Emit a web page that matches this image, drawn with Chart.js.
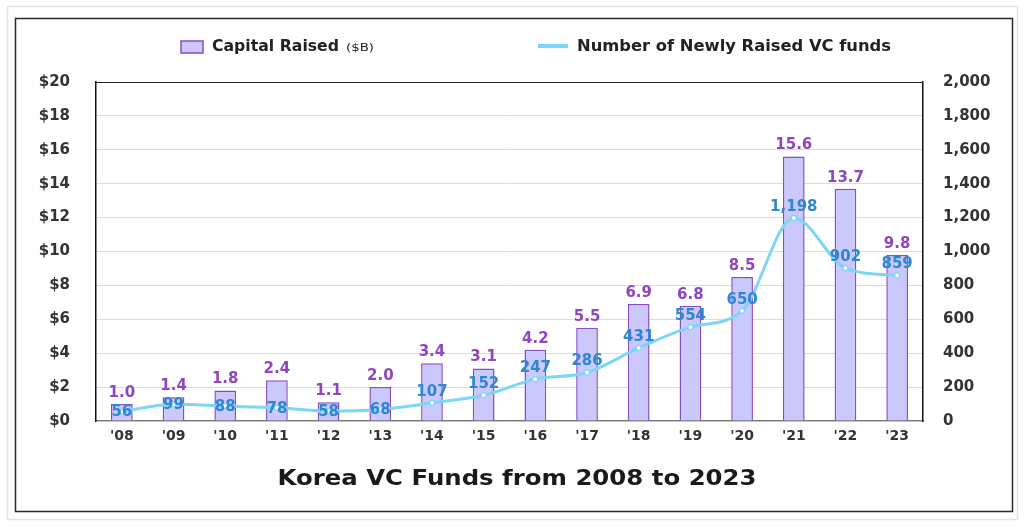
<!DOCTYPE html>
<html><head><meta charset="utf-8">
<script src="https://cdn.jsdelivr.net/npm/chart.js@4.4.1/dist/chart.umd.min.js"></script>
<style>html,body{margin:0;padding:0;background:#fff;}#wrap{width:1024px;height:527px;position:relative;}</style>
</head><body><div id="wrap"><canvas id="c" width="1024" height="527"></canvas></div>
<script>
const categories = ["'08","'09","'10","'11","'12","'13","'14","'15","'16","'17","'18","'19","'20","'21","'22","'23"];
const capitalRaised = [1.0,1.4,1.8,2.4,1.1,2.0,3.4,3.1,4.2,5.5,6.9,6.8,8.5,15.6,13.7,9.8];
const newFunds = [56,99,88,78,58,68,107,152,247,286,431,554,650,1198,902,859];
const barLabel = "Capital Raised";
const barUnit = "($B)";
const lineLabel = "Number of Newly Raised VC funds";
const chartTitle = "Korea VC Funds from 2008 to 2023";

const FONT = '"DejaVu Sans", "Noto Sans", sans-serif';
const BAR_FILL = '#cbc8fb', BAR_BORDER = '#8a4cc2', LINE_COL = '#7dd5f7';
const BAR_LBL = '#8e47c0', LINE_LBL = '#2f86d2';

function fitText(ctx, text, x, y, targetW, align) {
  ctx.letterSpacing = '0px';
  const w0 = ctx.measureText(text).width;
  const sx = targetW / w0;
  const left = align === 'center' ? x - targetW / 2 : x;
  ctx.save();
  ctx.translate(left, y);
  ctx.scale(sx, 1);
  ctx.textAlign = 'left';
  ctx.fillText(text, 0, 0);
  ctx.restore();
}

const decor = {
  id: 'decor',
  beforeDraw(chart) {
    const ctx = chart.ctx;
    ctx.save();
    ctx.fillStyle = '#fff'; ctx.fillRect(0,0,chart.width,chart.height);
    ctx.strokeStyle = '#e3e3e3'; ctx.lineWidth = 1.5;
    ctx.strokeRect(7.5, 6.5, 1010, 513);
    ctx.strokeStyle = '#2a2a2a'; ctx.lineWidth = 1.5;
    ctx.strokeRect(15.5, 18.5, 997, 493);
    ctx.restore();
  },
  afterDraw(chart) {
    const ctx = chart.ctx; const a = chart.chartArea;
    ctx.save();
    ctx.strokeStyle = '#222'; ctx.lineWidth = 1.2;
    ctx.beginPath(); ctx.moveTo(a.left, a.top + 0.5); ctx.lineTo(a.right, a.top + 0.5); ctx.stroke();
    // legend
    ctx.fillStyle = BAR_FILL; ctx.strokeStyle = BAR_BORDER; ctx.lineWidth = 1.5;
    ctx.fillRect(181, 41, 22, 12); ctx.strokeRect(181, 41, 22, 12);
    ctx.fillStyle = '#222'; ctx.textBaseline = 'middle';
    ctx.font = 'bold 15px ' + FONT;
    fitText(ctx, barLabel, 212, 47, 127, 'left');
    ctx.font = '11px ' + FONT;
    fitText(ctx, barUnit, 346, 48, 28, 'left');
    ctx.strokeStyle = LINE_COL; ctx.lineWidth = 4;
    ctx.beginPath(); ctx.moveTo(538, 46); ctx.lineTo(568, 46); ctx.stroke();
    ctx.font = 'bold 15px ' + FONT;
    fitText(ctx, lineLabel, 577, 47, 314, 'left');
    // title
    ctx.font = 'bold 21px ' + FONT;
    ctx.fillStyle = '#1a1a1a';
    fitText(ctx, chartTitle, 517, 480, 479, 'center');
    // bar labels
    const bm = chart.getDatasetMeta(0);
    ctx.font = 'bold 15px ' + FONT; ctx.fillStyle = BAR_LBL; ctx.textAlign = 'center'; ctx.textBaseline = 'middle';
    bm.data.forEach((el, i) => {
      ctx.fillText(capitalRaised[i].toFixed(1), el.x, el.y - 11);
    });
    // line labels
    const lm = chart.getDatasetMeta(1);
    ctx.font = 'bold 15px ' + FONT; ctx.fillStyle = LINE_LBL;
    lm.data.forEach((el, i) => {
      const v = newFunds[i];
      const dy = v >= 100 ? -11 : 1;
      ctx.fillText(v.toLocaleString('en-US'), el.x, el.y + dy);
    });
    ctx.restore();
  }
};

new Chart(document.getElementById('c'), {
  data: {
    labels: categories,
    datasets: [
      { type: 'bar', label: barLabel, data: capitalRaised, yAxisID: 'y',
        backgroundColor: BAR_FILL, borderColor: BAR_BORDER, borderWidth: 1.5,
        categoryPercentage: 1, barPercentage: 0.42, order: 2 },
      { type: 'line', label: lineLabel, data: newFunds, yAxisID: 'y1',
        borderColor: LINE_COL, borderWidth: 3, tension: 0.4, cubicInterpolationMode: 'monotone',
        pointRadius: 2.5, pointBackgroundColor: '#fff', pointBorderColor: LINE_COL, pointBorderWidth: 1.2,
        fill: false, order: 1 }
    ]
  },
  options: {
    responsive: false, animation: false, devicePixelRatio: 1,
    layout: { padding: { left: 20, right: 21, top: 82, bottom: 76 } },
    plugins: { legend: { display: false }, tooltip: { enabled: false }, title: { display: false } },
    scales: {
      x: {
        grid: { display: false, drawTicks: false },
        border: { display: true, color: '#777', width: 1.2 },
        ticks: { padding: 7, color: '#333', font: { family: FONT, size: 14, weight: 'bold' } },
        afterFit(s) { s.height = 30; }
      },
      y: {
        position: 'left', min: 0, max: 20,
        grid: { color: '#dcdcdc', lineWidth: 1, drawTicks: false },
        border: { display: true, color: '#111', width: 1.5 },
        ticks: { stepSize: 2, padding: 26, color: '#333', font: { family: FONT, size: 15, weight: 'bold' },
          callback: v => '$' + v },
        afterFit(s) { s.width = 76; }
      },
      y1: {
        position: 'right', min: 0, max: 2000,
        grid: { display: false, drawTicks: false },
        border: { display: true, color: '#111', width: 1.5 },
        ticks: { stepSize: 200, padding: 20, color: '#333', font: { family: FONT, size: 15, weight: 'bold' },
          callback: v => v.toLocaleString('en-US') },
        afterFit(s) { s.width = 80; }
      }
    }
  },
  plugins: [decor]
});
</script></body></html>
